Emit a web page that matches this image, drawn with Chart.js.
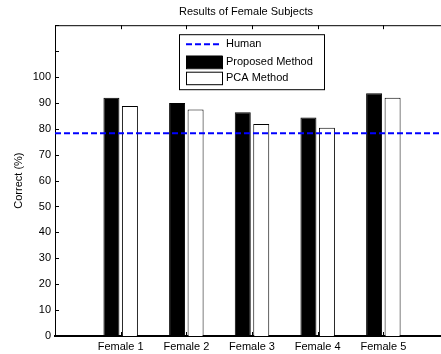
<!DOCTYPE html>
<html>
<head>
<meta charset="utf-8">
<script src="https://cdn.jsdelivr.net/npm/chart.js@4/dist/chart.umd.min.js"></script>
<style>
  html, body { margin: 0; padding: 0; background: #fff; overflow: hidden; }
  canvas { display: block; }
</style>
</head>
<body>
<canvas id="chart" width="441" height="354"></canvas>
<script>
'use strict';

// ---- Data ----
var subjects = ['Female 1', 'Female 2', 'Female 3', 'Female 4', 'Female 5'];
var proposed = [92.0, 90.0, 86.4, 84.4, 93.7];
var pca = [88.8, 87.5, 81.9, 80.4, 92.0];
var humanLevel = 78.3;
var yMax = 120;
var yStep = 10;
var yLastLabel = 100;
// the original axes run from 0 to 6 groups; the figure is cut off before 6
var xMin = 0;
var xMax = 5.817;
var xFullEnd = 6;

var FONT = 'Liberation Sans, Arial, sans-serif';

var proposedData = proposed.map(function(v, i) { return { x: i + 1, y: v }; });
var pcaData = pca.map(function(v, i) { return { x: i + 1, y: v }; });
var humanData = [{ x: xMin, y: humanLevel }, { x: xFullEnd, y: humanLevel }];

// ---- Top edge, inward ticks and the legend, MATLAB style ----
var frameAndLegend = {
  id: 'frameAndLegend',
  afterDraw: function(chart) {
    var ctx = chart.ctx;
    var a = chart.chartArea;
    var xs = chart.scales.x;
    var ys = chart.scales.y;
    var tick = 4;

    ctx.save();
    ctx.strokeStyle = '#000';
    ctx.lineWidth = 1;
    ctx.beginPath();
    ctx.moveTo(a.left, a.top + 0.5);
    ctx.lineTo(chart.width, a.top + 0.5);
    ctx.stroke();

    ctx.beginPath();
    for (var v = 0; v <= yMax; v += yStep) {
      var py = Math.round(ys.getPixelForValue(v)) + 0.5;
      ctx.moveTo(a.left, py);
      ctx.lineTo(a.left + tick, py);
    }
    for (var i = 1; i <= subjects.length; i++) {
      var px = Math.round(xs.getPixelForValue(i)) + 0.5;
      ctx.moveTo(px, a.top);
      ctx.lineTo(px, a.top + tick);
      ctx.moveTo(px, a.bottom);
      ctx.lineTo(px, a.bottom - tick);
    }
    ctx.stroke();

    // bottom axis runs on to the edge of the cut-off figure
    ctx.lineWidth = 2;
    ctx.beginPath();
    ctx.moveTo(a.right, a.bottom);
    ctx.lineTo(chart.width, a.bottom);
    ctx.stroke();

    // legend
    var ds = chart.data.datasets;
    var lx = a.left + 124, ly = a.top + 9, lw = 145, lh = 55;
    ctx.fillStyle = '#fff';
    ctx.fillRect(lx, ly, lw, lh);
    ctx.lineWidth = 1;
    ctx.strokeStyle = '#000';
    ctx.strokeRect(lx + 0.5, ly + 0.5, lw, lh);

    var sx = lx + 7, sw = 36, tx = lx + 47;
    var rows = [ly + 10, ly + 27.5, ly + 43.5];
    ctx.font = '11px ' + FONT;
    ctx.textBaseline = 'middle';
    ctx.textAlign = 'left';

    ds.forEach(function(d, k) {
      var ry = rows[k];
      if (d.type === 'line') {
        ctx.save();
        ctx.strokeStyle = d.borderColor;
        ctx.lineWidth = d.borderWidth;
        ctx.setLineDash(d.borderDash);
        ctx.beginPath();
        ctx.moveTo(sx, ry);
        ctx.lineTo(sx + sw, ry);
        ctx.stroke();
        ctx.restore();
      } else {
        ctx.fillStyle = d.backgroundColor;
        ctx.fillRect(sx, ry - 6, sw, 12.5);
        ctx.strokeStyle = d.borderColor;
        ctx.strokeRect(sx + 0.5, ry - 6 + 0.5, sw, 12.5);
      }
      ctx.fillStyle = '#000';
      ctx.fillText(d.label, tx, ry);
    });
    ctx.restore();
  }
};

new Chart(document.getElementById('chart'), {
  type: 'bar',
  data: {
    datasets: [
      {
        type: 'line',
        label: 'Human',
        data: humanData,
        borderColor: '#0000ff',
        borderWidth: 2,
        borderDash: [6, 3],
        pointRadius: 0,
        fill: false,
        clip: false,
        order: 0,
      },
      {
        label: 'Proposed Method',
        data: proposedData,
        backgroundColor: '#000',
        borderColor: '#000',
        borderWidth: 1,
        order: 1,
      },
      {
        label: 'PCA Method',
        data: pcaData,
        backgroundColor: '#fff',
        borderColor: '#000',
        borderWidth: 1,
        order: 1,
      },
    ],
  },
  options: {
    responsive: false,
    animation: false,
    devicePixelRatio: 1,
    layout: { padding: { left: 0, right: 4, top: 0, bottom: 0 } },
    datasets: {
      bar: { categoryPercentage: 0.563, barPercentage: 0.865 },
    },
    plugins: {
      legend: { display: false },
      tooltip: { enabled: false },
      title: {
        display: true,
        text: 'Results of Female Subjects',
        fullSize: false,
        color: '#000',
        font: { family: FONT, size: 11, weight: 'normal' },
        padding: { top: 5, bottom: 7 },
      },
    },
    scales: {
      x: {
        type: 'linear',
        min: xMin,
        max: xMax,
        offset: false,
        grid: { display: false, drawTicks: false },
        border: { display: true, color: '#000', width: 2 },
        ticks: {
          stepSize: 1,
          includeBounds: false,
          color: '#000',
          font: { family: FONT, size: 11 },
          padding: 4,
          autoSkip: false,
          maxRotation: 0,
          callback: function(v) { return subjects[v - 1] || ''; },
        },
        afterFit: function(s) { s.height = 18; },
      },
      y: {
        min: 0,
        max: yMax,
        grid: { display: false, drawTicks: false },
        border: { display: true, color: '#000', width: 1 },
        ticks: {
          stepSize: yStep,
          color: '#000',
          font: { family: FONT, size: 11 },
          padding: 4,
          callback: function(v) { return v <= yLastLabel ? v : ''; },
        },
        title: {
          display: true,
          text: 'Correct (%)',
          color: '#000',
          font: { family: FONT, size: 11 },
          padding: { top: 12, bottom: 0 },
        },
        afterFit: function(s) { s.width = 55; },
      },
    },
  },
  plugins: [frameAndLegend],
});
</script>
</body>
</html>
